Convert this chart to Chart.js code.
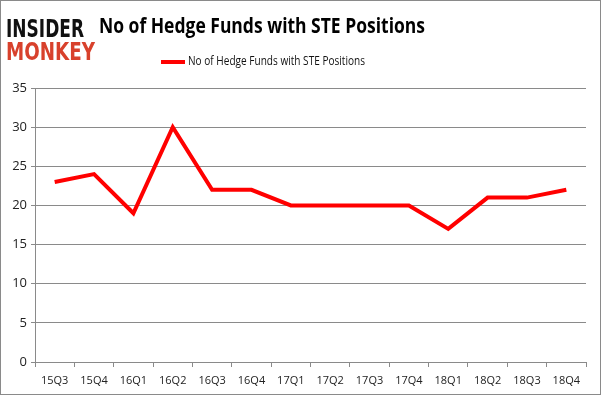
<!DOCTYPE html>
<html>
<head>
<meta charset="utf-8">
<script src="https://cdn.jsdelivr.net/npm/chart.js@4"></script>
<style>
  html, body { margin: 0; padding: 0; background: #fff; }
  #wrap { width: 601px; height: 395px; }
</style>
</head>
<body>
<div id="wrap"><canvas id="chart" width="601" height="395"></canvas></div>
<script>
// quarters on the x axis
var quarters = ['15Q3', '15Q4', '16Q1', '16Q2', '16Q3', '16Q4', '17Q1', '17Q2',
                '17Q3', '17Q4', '18Q1', '18Q2', '18Q3', '18Q4'];
// number of hedge funds holding STE
var funds = [23, 24, 19, 30, 22, 22, 20, 20, 20, 20, 17, 21, 21, 22];
var seriesName = 'No of Hedge Funds with STE Positions';
var chartTitle = 'No of Hedge Funds with STE Positions';

// fits a text into a given width by squeezing it a bit
function drawFit(ctx, txt, x, y, w) {
    var m = ctx.measureText(txt).width;
    ctx.save();
    ctx.translate(x, y);
    ctx.scale(w / m, 1);
    ctx.fillText(txt, 0, 0);
    ctx.restore();
}

var decor = {
    id: 'decor',
    beforeDraw: function(chart) {
        var ctx = chart.ctx;
        ctx.save();
        ctx.fillStyle = '#fff';
        ctx.fillRect(0, 0, chart.width, chart.height);

        // logo
        ctx.textBaseline = 'alphabetic';
        ctx.font = 'bold 25px "DejaVu Sans"';
        ctx.fillStyle = '#111';
        drawFit(ctx, 'INSIDER', 6, 37, 78);
        ctx.fillStyle = '#d8412c';
        drawFit(ctx, 'MONKEY', 6, 60, 89);

        // title
        ctx.font = 'bold 22px "Open Sans"';
        ctx.fillStyle = '#000';
        drawFit(ctx, chartTitle, 99, 33, 326);

        // legend
        var ds = chart.data.datasets[0];
        ctx.strokeStyle = ds.borderColor;
        ctx.lineWidth = 4;
        ctx.beginPath();
        ctx.moveTo(161, 62);
        ctx.lineTo(185, 62);
        ctx.stroke();
        ctx.font = '12px "Open Sans"';
        ctx.fillStyle = '#111';
        ctx.textBaseline = 'middle';
        drawFit(ctx, ds.label, 188, 62, 177);
        ctx.restore();
    },
    afterDraw: function(chart) {
        var ctx = chart.ctx;
        ctx.save();
        ctx.strokeStyle = '#8a8a8a';
        ctx.lineWidth = 1;
        ctx.strokeRect(0.5, 0.5, chart.width - 1, chart.height - 1);
        ctx.restore();
    }
};

new Chart(document.getElementById('chart'), {
    type: 'line',
    data: {
        labels: quarters,
        datasets: [{
            label: seriesName,
            data: funds,
            borderColor: '#ff0000',
            backgroundColor: '#ff0000',
            borderWidth: 4,
            pointRadius: 0,
            tension: 0,
            fill: false
        }]
    },
    options: {
        responsive: false,
        animation: false,
        layout: { padding: { top: 88, left: 0, right: 15, bottom: 0 } },
        plugins: {
            legend: { display: false },
            title: { display: false },
            tooltip: { enabled: false }
        },
        scales: {
            x: {
                offset: true,
                grid: {
                    offset: true,
                    drawOnChartArea: false,
                    drawTicks: true,
                    tickLength: 5,
                    color: '#8a8a8a'
                },
                border: { color: '#8a8a8a' },
                ticks: {
                    padding: 7,
                    maxRotation: 0,
                    autoSkip: false,
                    color: '#222',
                    font: { family: 'Open Sans', size: 11 }
                },
                afterFit: function(s) { s.height = 33; }
            },
            y: {
                min: 0,
                max: 35,
                grid: { color: '#8a8a8a', tickLength: 4 },
                border: { color: '#8a8a8a' },
                ticks: {
                    stepSize: 5,
                    padding: 4,
                    color: '#222',
                    font: { family: 'Open Sans', size: 13 }
                },
                afterFit: function(s) { s.width = 35; }
            }
        }
    },
    plugins: [decor]
});
</script>
</body>
</html>
